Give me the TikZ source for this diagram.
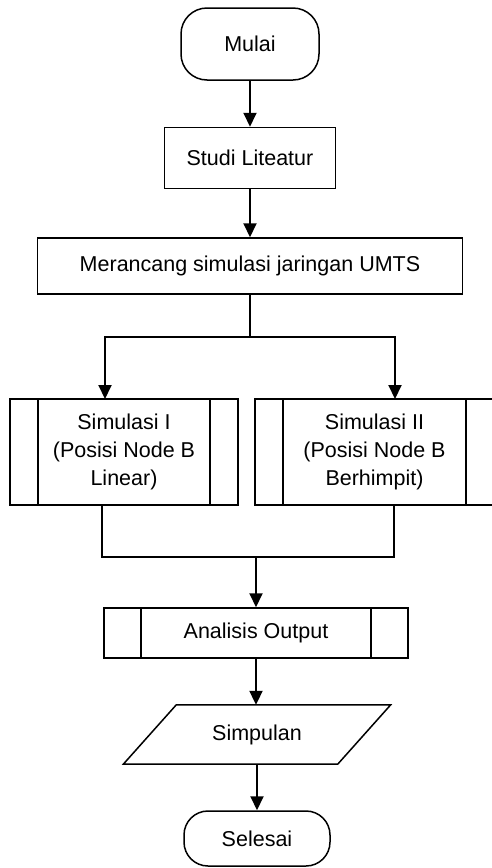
\documentclass[tikz,border=0pt]{standalone}
\usepackage{fontspec}
\setmainfont{Liberation Sans}
\usetikzlibrary{arrows.meta}

\tikzset{
  kotak/.style={draw,rectangle,line width=1.5pt,align=center,inner sep=0pt},
  mulaiakhir/.style={kotak,rounded corners=26pt},
  proses/.style={kotak,path picture={
     \draw[line width=1.5pt] ([xshift=#1]path picture bounding box.north west) -- ([xshift=#1]path picture bounding box.south west);
     \draw[line width=1.5pt] ([xshift=-#1]path picture bounding box.north east) -- ([xshift=-#1]path picture bounding box.south east);}},
  data/.style={rectangle,align=center,inner sep=0pt},
  panah/.style={-{Triangle[length=14pt,width=13pt]},line width=2pt},
  garis/.style={line width=2pt}
}

\begin{document}
\begin{tikzpicture}[x=1pt,y=-1pt,font=\fontsize{21.5}{28}\selectfont]
\useasboundingbox (0,0) rectangle (492,868);
% alur utama
\node[mulaiakhir,minimum width=138pt,minimum height=72pt] (mulai) at (250,44) {Mulai};
\node[kotak,minimum width=171pt,minimum height=61pt] (studi) at (250,158) {Studi Liteatur};
\node[kotak,minimum width=425pt,minimum height=56pt] (rancang) at (250,266) {Merancang simulasi jaringan UMTS};
\node[proses=28pt,minimum width=228pt,minimum height=106pt] (sim1) at (124,452) {Simulasi I\\(Posisi Node B\\Linear)};
\node[proses=28pt,minimum width=239pt,minimum height=106pt] (sim2) at (374.5,452) {Simulasi II\\(Posisi Node B\\Berhimpit)};
\node[proses=37pt,minimum width=304pt,minimum height=50pt] (analisis) at (256,633) {Analisis Output};
\node[data,minimum width=214pt,minimum height=59pt] (simpulan) at (257,734.5) {Simpulan};
\draw[line width=1.5pt] ([xshift=26.5pt]simpulan.north west) -- ([xshift=26.5pt]simpulan.north east)
  -- ([xshift=-26.5pt]simpulan.south east) -- ([xshift=-26.5pt]simpulan.south west) -- cycle;
\node[mulaiakhir,rounded corners=24pt,minimum width=146pt,minimum height=55pt] (selesai) at (257,838.5) {Selesai};

% titik cabang
\coordinate (pisah) at (250,337);
\coordinate (masuk1) at (105,399);
\coordinate (masuk2) at (395,399);
\coordinate (keluar1) at (102,505);
\coordinate (keluar2) at (394,505);
\coordinate (gabung) at (256,557);

\draw[panah] (mulai) -- (studi);
\draw[panah] (studi) -- (rancang);
\draw[garis] (rancang) -- (pisah);
\draw[panah] (pisah) -| (masuk1);
\draw[panah] (pisah) -| (masuk2);
\draw[garis] (keluar1) |- (gabung) -| (keluar2);
\draw[panah] (gabung) -- (analisis);
\draw[panah] (analisis.south) -- (analisis.south |- simpulan.north);
\draw[panah] (simpulan) -- (selesai);
\end{tikzpicture}
\end{document}
